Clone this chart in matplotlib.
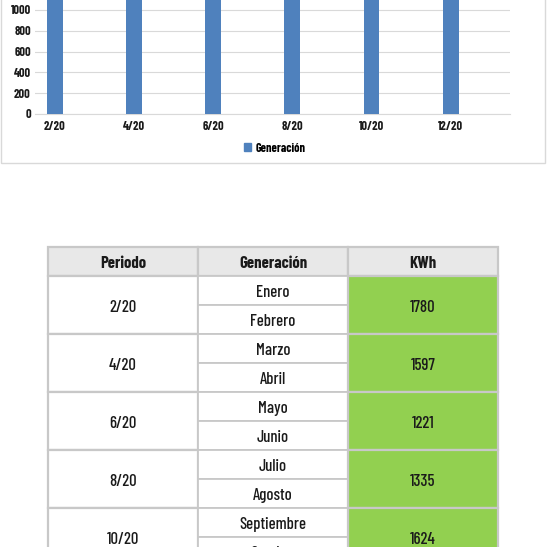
import matplotlib
matplotlib.use('Agg')
import matplotlib.pyplot as plt
from matplotlib.patches import Rectangle, Patch
import numpy as np

# ---- data ----
periods = ['2/20', '4/20', '6/20', '8/20', '10/20', '12/20']
generacion = [1780, 1597, 1221, 1335, 1624, 1700]
# table rows visible in the reference (2/20 .. 10/20)
table_periods = ['2/20', '4/20', '6/20', '8/20', '10/20']
table_kwh = [1780, 1597, 1221, 1335, 1624]
months = ['Enero', 'Febrero', 'Marzo', 'Abril', 'Mayo', 'Junio',
          'Julio', 'Agosto', 'Septiembre', 'Octubre']
headers = ['Periodo', 'Generación', 'KWh']
y_ticks = [0, 200, 400, 600, 800, 1000]

FONT = ['Barlow Condensed', 'DejaVu Sans']
plt.rcParams['font.family'] = FONT

W = H = 547
fig = plt.figure(figsize=(5.47, 5.47), dpi=100)
fig.patch.set_facecolor('white')


def fx(px):
    return px / W


def fy(py):
    return 1 - py / H


# chart frame
fig.patches.append(Rectangle((fx(1), fy(163)), fx(545) - fx(1), fy(-10) - fy(163),
                             transform=fig.transFigure, fill=False,
                             edgecolor='#d9d9d9', lw=1))

# ---- bar chart ----
YMAX = 1200
ax = fig.add_axes([fx(35), fy(114), fx(510) - fx(35), 104 * YMAX / 1000 / H])
x = np.arange(len(periods))
ax.bar(x, generacion, width=0.2, color='#4f81bd', zorder=3)
ax.set_xlim(-0.25, 5.75)
ax.set_ylim(0, YMAX)
ax.set_yticks(y_ticks)
ax.set_xticks(x, periods)
ax.grid(axis='y', color='#d9d9d9', lw=0.8, zorder=0)
ax.set_axisbelow(True)
for s in ['top', 'right', 'left']:
    ax.spines[s].set_visible(False)
ax.spines['bottom'].set_color('#d9d9d9')
ax.spines['bottom'].set_linewidth(0.8)
ax.tick_params(axis='y', length=0, pad=3, labelsize=8.8)
ax.tick_params(axis='x', length=0, pad=5, labelsize=8.8)
for lab in ax.get_xticklabels() + ax.get_yticklabels():
    lab.set_fontweight('bold')
    lab.set_color('#1a1a1a')

fig.legend(handles=[Patch(color='#4f81bd', label='Generación')],
           loc='center', bbox_to_anchor=(fx(275), fy(148)), frameon=False,
           handlelength=0.55, handleheight=0.55, handletextpad=0.4,
           prop=dict(weight='bold', size=8.8))

# ---- table ----
nrows = 1 + 2 * len(table_periods)
rh = 29
tax = fig.add_axes([fx(48), fy(247 + rh * nrows), 450 / W, rh * nrows / H])
tax.set_xlim(0, 3)
tax.set_ylim(nrows, 0)
tax.axis('off')

EC = '#c8c8c8'
LW = 1.6
FS = 12
DY = 0.07
for j, h in enumerate(headers):
    tax.add_patch(Rectangle((j, 0), 1, 1, fc='#e8e8e8', ec=EC, lw=LW, clip_on=False))
    tax.text(j + 0.5, 0.5 + DY, h, ha='center', va='center', fontsize=FS,
             fontweight='bold', color='#1a1a1a')

for i, (p, v) in enumerate(zip(table_periods, table_kwh)):
    r0 = 1 + 2 * i
    tax.add_patch(Rectangle((0, r0), 1, 2, fc='white', ec=EC, lw=LW, clip_on=False))
    tax.text(0.5, r0 + 1 + DY, p, ha='center', va='center', fontsize=FS,
             fontweight='medium', color='#1a1a1a')
    for k in range(2):
        tax.add_patch(Rectangle((1, r0 + k), 1, 1, fc='white', ec=EC, lw=LW * 0.8,
                                clip_on=False))
        tax.text(1.5, r0 + k + 0.5 + DY, months[2 * i + k], ha='center', va='center',
                 fontsize=FS, fontweight='medium', color='#1a1a1a')
    tax.add_patch(Rectangle((2, r0), 1, 2, fc='#92d050', ec=EC, lw=LW, clip_on=False))
    tax.text(2.5, r0 + 1 + DY, str(v), ha='center', va='center', fontsize=FS,
             fontweight='medium', color='#1a1a1a')

fig.savefig('out.png', dpi=100)
